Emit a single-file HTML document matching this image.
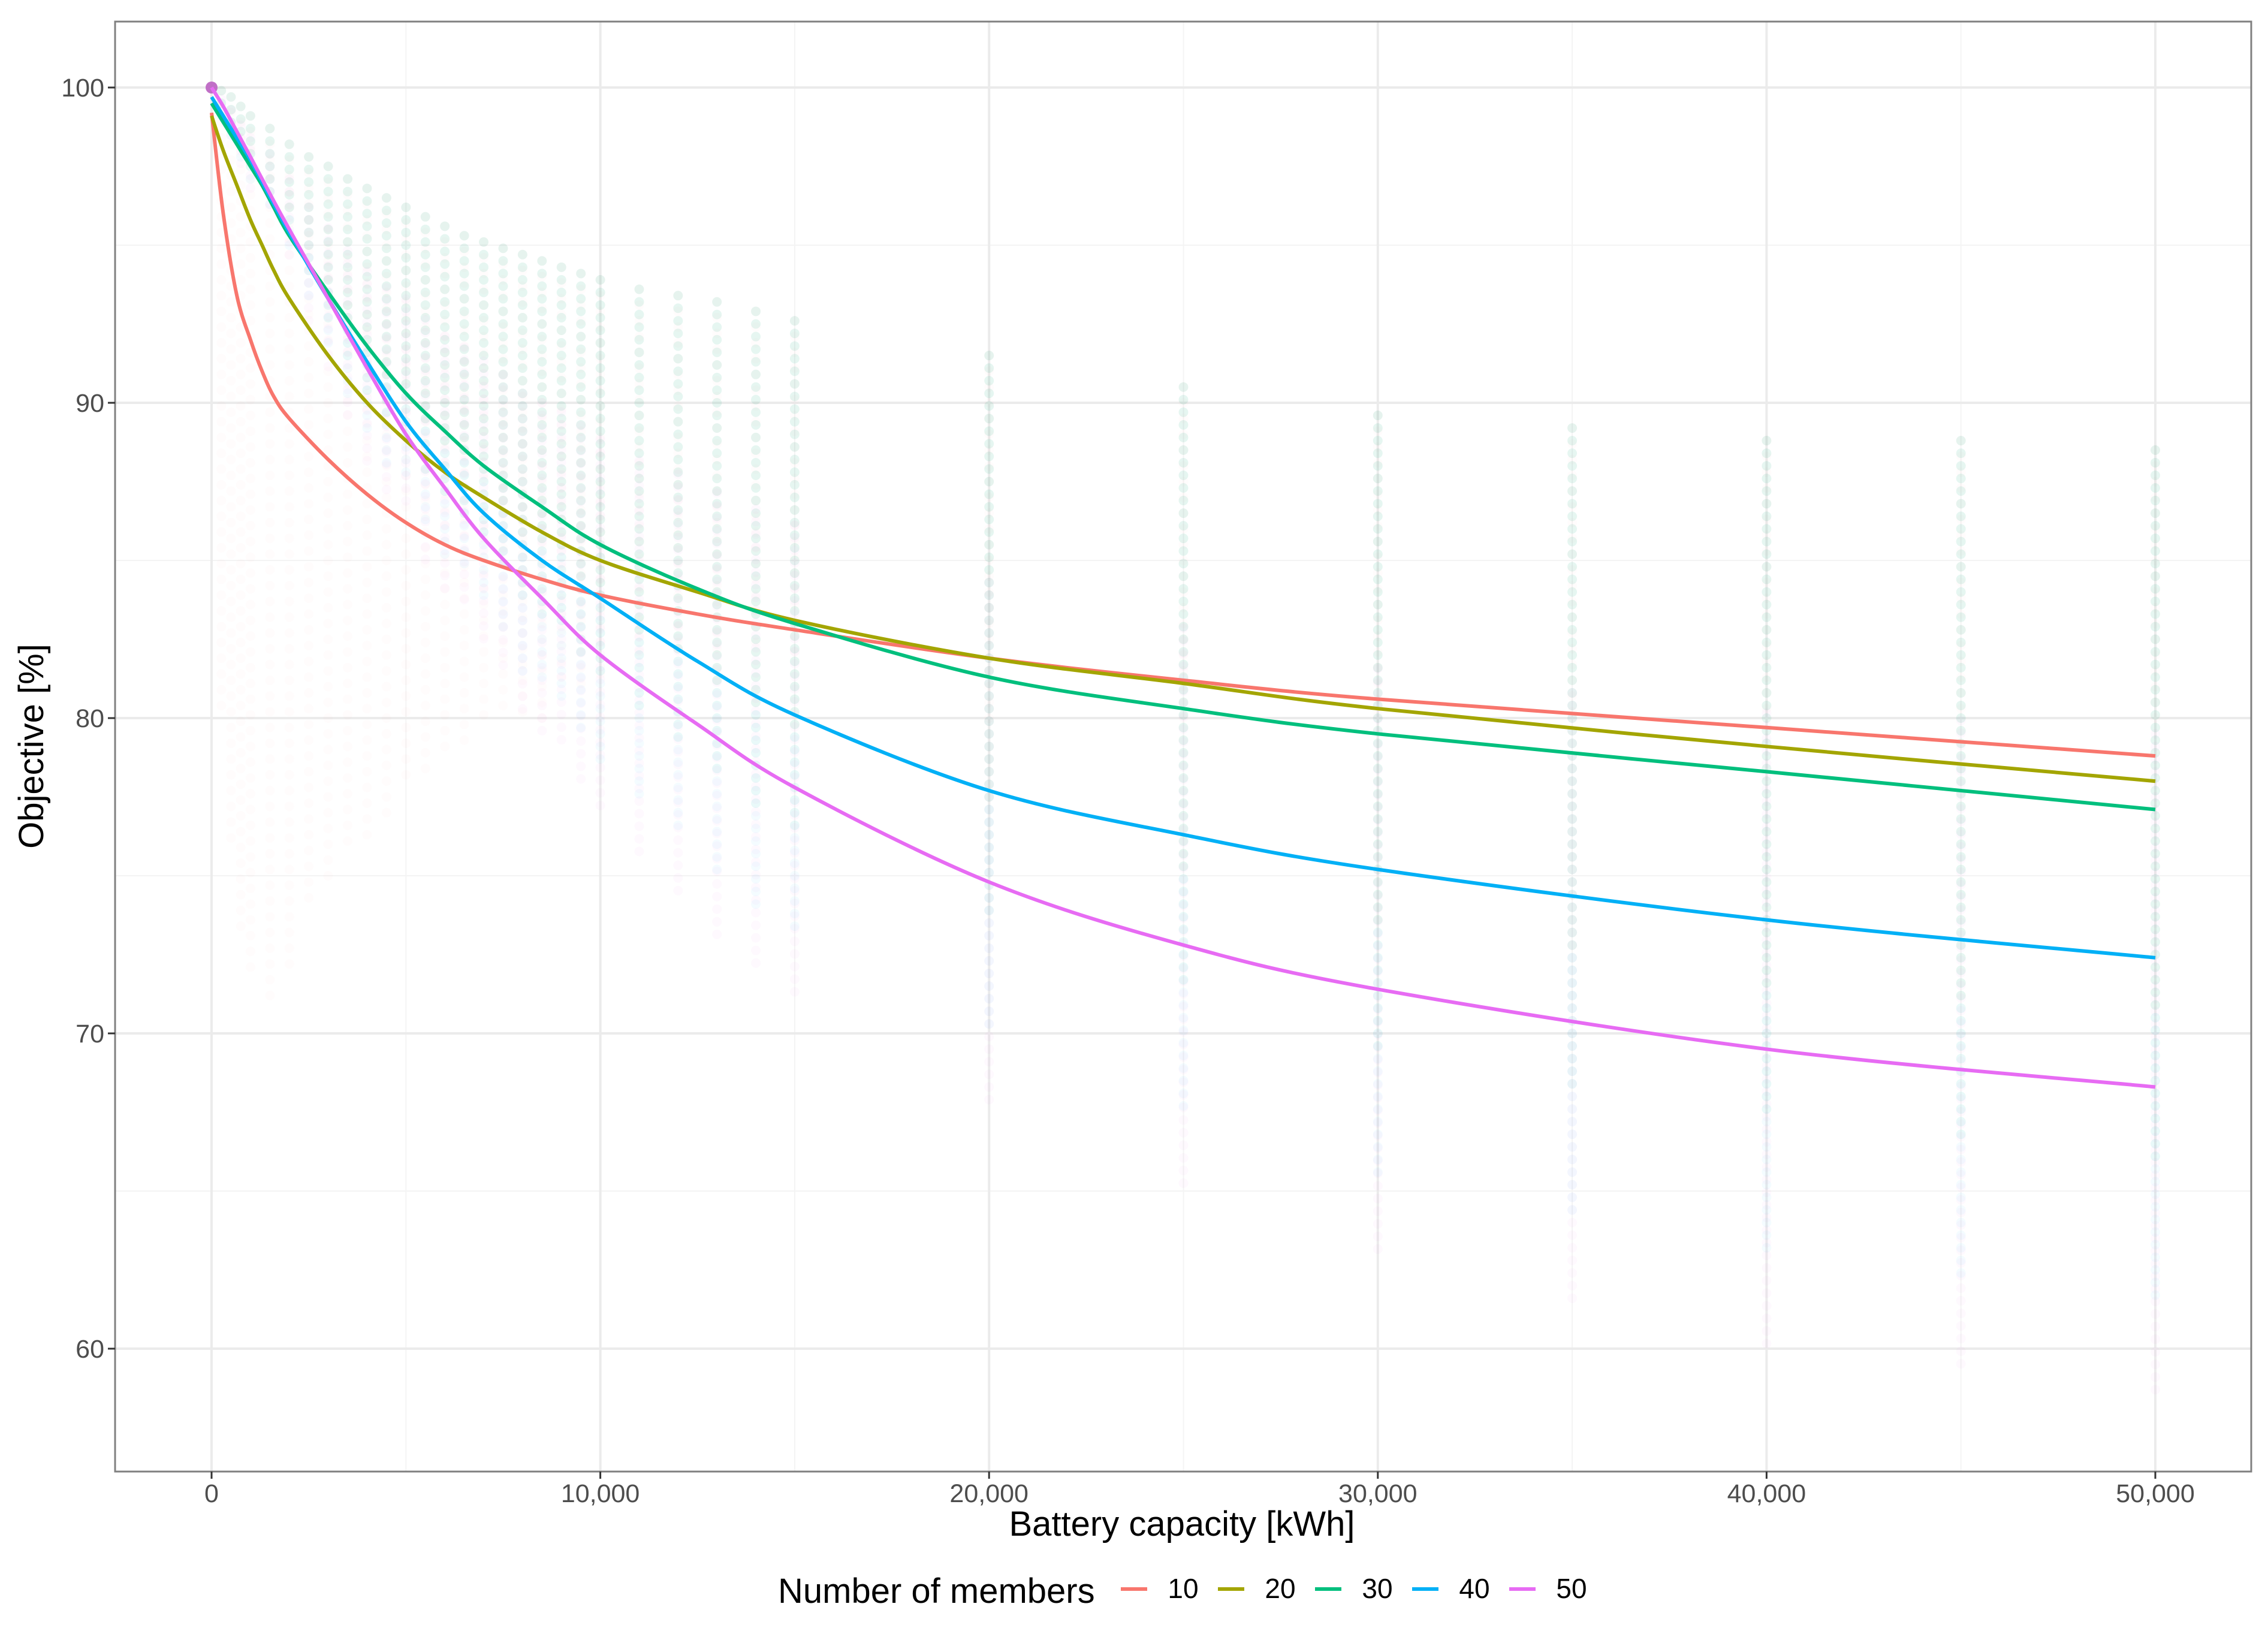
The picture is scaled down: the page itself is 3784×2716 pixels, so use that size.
<!DOCTYPE html>
<html><head><meta charset="utf-8">
<style>
html,body{margin:0;padding:0;background:#fff;}
svg{display:block;font-family:"Liberation Sans",sans-serif;}
</style></head>
<body>
<svg id="chart" width="3784" height="2716" viewBox="0 0 3784 2716" xmlns="http://www.w3.org/2000/svg">
<rect width="3784" height="2716" fill="#fff"/>
<g id="grid"></g>
<g id="points"></g>
<g id="lines"></g>
<rect x="192" y="36" width="3564" height="2419" fill="none" stroke="#808080" stroke-width="3"/>
<g id="axes"></g>
<text x="1972" y="2562" font-size="58" text-anchor="middle" fill="#000">Battery capacity [kWh]</text>
<text transform="translate(72,1245) rotate(-90)" font-size="58" text-anchor="middle" fill="#000">Objective [%]</text>
<g id="legend"></g>
</svg>
<script>
const NS="http://www.w3.org/2000/svg";
const xTicks=[0,10000,20000,30000,40000,50000];
const xTickLabels=["0","10,000","20,000","30,000","40,000","50,000"];
const yTicks=[60,70,80,90,100];
const yTickLabels=["60","70","80","90","100"];
const seriesNames=["10","20","30","40","50"];
const seriesColors=["#F8766D","#A3A500","#00BF7D","#00B0F6","#E76BF3"];
const lineX=[0,300,650,1000,1300,1600,2000,3000,4000,5000,6000,7000,8500,10000,12500,15000,20000,25000,30000,40000,50000];
const line10=[99.2,96.0,93.4,92.0,91.0,90.2,89.5,88.2,87.1,86.2,85.5,85.0,84.4,83.9,83.3,82.8,81.9,81.2,80.6,79.7,78.8];
const line20=[99.1,98.0,96.9,95.8,95.0,94.2,93.3,91.5,90.0,88.8,87.8,87.0,85.9,85.0,84.0,83.1,81.9,81.1,80.3,79.1,78.0];
const line30=[99.5,98.9,98.2,97.5,96.9,96.2,95.3,93.5,91.8,90.3,89.1,88.0,86.7,85.5,84.1,83.0,81.3,80.3,79.5,78.3,77.1];
const line40=[99.7,99.1,98.4,97.7,97.0,96.3,95.4,93.3,91.3,89.4,87.9,86.5,85.0,83.8,81.8,80.1,77.7,76.3,75.2,73.6,72.4];
const line50=[100,99.4,98.6,97.8,97.1,96.4,95.5,93.3,91.1,89.0,87.3,85.7,83.8,82.0,79.8,77.8,74.8,72.8,71.4,69.5,68.3];
const lineSeries=[line10,line20,line30,line40,line50];
const colX=[250,500,750,1000,1500,2000,2500,3000,3500,4000,4500,5000,5500,6000,6500,7000,7500,8000,8500,9000,9500,10000,11000,12000,13000,14000,15000,20000,25000,30000,35000,40000,45000,50000];
const colTop=[99.9,99.7,99.4,99.1,98.7,98.2,97.8,97.5,97.1,96.8,96.5,96.2,95.9,95.6,95.3,95.1,94.9,94.7,94.5,94.3,94.1,93.9,93.6,93.4,93.2,92.9,92.6,91.5,90.5,89.6,89.2,88.8,88.8,88.5];
const colBottom=[99.0,98.3,97.4,96.8,96.0,94.5,92.5,91.0,89.5,88.0,87.0,86.5,85.0,84.0,83.5,82.5,81.5,80.0,79.5,79.0,78.0,77.0,75.5,74.5,73.0,72.0,71.0,67.5,65.0,62.8,61.2,60.0,59.2,58.5];
const redBottom=[80,76,73,72,71,72,74,75,76,76,77,78,78,79,79,80,80,80,80,81,81,81,82,82,82,82,82,80,80,80,80,80,80,80];

const X0=353, XS=648.6/10000, Y100=146, YS=52.6;
const xs=v=>X0+v*XS;
const ys=v=>Y100+(100-v)*YS;
function el(tag,attrs,parent){const e=document.createElementNS(NS,tag);for(const k in attrs)e.setAttribute(k,attrs[k]);parent.appendChild(e);return e;}

const grid=document.getElementById('grid');
[5000,15000,25000,35000,45000].forEach(v=>{const l=el('line',{x1:xs(v),x2:xs(v),y1:36,y2:2455,stroke:'#f4f4f4','stroke-width':2},grid);

});
[65,75,85,95].forEach(v=>{const l=el('line',{x1:192,x2:3756,y1:ys(v),y2:ys(v),stroke:'#f4f4f4','stroke-width':2},grid);

});
xTicks.forEach(v=>{const l=el('line',{x1:xs(v),x2:xs(v),y1:36,y2:2455,stroke:'#ebebeb','stroke-width':4},grid);

});
yTicks.forEach(v=>{const l=el('line',{x1:192,x2:3756,y1:ys(v),y2:ys(v),stroke:'#ebebeb','stroke-width':4},grid);

});

const pts=document.getElementById('points');
const fracs=[0.45,0.6,0.75,0.9,1.0];
colX.forEach((cx,i)=>{
  const top=colTop[i],bot=colBottom[i];
  for(let v=top;v>=redBottom[i];v-=0.5){const c=el('circle',{cx:xs(cx),cy:ys(v),r:8,fill:seriesColors[0],'fill-opacity':0.02},pts);
    
    }
  for(let s=1;s<5;s++){
    const b=top-(top-bot)*fracs[s];
    const st=s===4?top-(top-bot)*0.3:top;
    const op=s===1?0.03:0.045;
    for(let v=st;v>=b;v-=0.4){const c=el('circle',{cx:xs(cx),cy:ys(v),r:8,fill:seriesColors[s],'fill-opacity':op},pts);
      
      }
  }
});
const p0=el('circle',{cx:xs(0),cy:ys(100),r:10,fill:'#c06fc6'},pts);



const lines=document.getElementById('lines');
function smoothPath(P){
  let d='M'+P[0][0].toFixed(1)+' '+P[0][1].toFixed(1);
  for(let i=0;i<P.length-1;i++){
    const p0=P[Math.max(0,i-1)],p1=P[i],p2=P[i+1],p3=P[Math.min(P.length-1,i+2)];
    const c1=[p1[0]+(p2[0]-p0[0])/6,p1[1]+(p2[1]-p0[1])/6];
    const c2=[p2[0]-(p3[0]-p1[0])/6,p2[1]-(p3[1]-p1[1])/6];
    d+=' C'+c1[0].toFixed(1)+' '+c1[1].toFixed(1)+' '+c2[0].toFixed(1)+' '+c2[1].toFixed(1)+' '+p2[0].toFixed(1)+' '+p2[1].toFixed(1);
  }
  return d;
}
lineSeries.forEach((arr,s)=>{
  const P=arr.map((v,i)=>[xs(lineX[i]),ys(v)]);
  const p=el('path',{d:smoothPath(P),fill:'none',stroke:seriesColors[s],'stroke-width':6,'stroke-linejoin':'round'},lines);
  
  
});

const axes=document.getElementById('axes');
xTicks.forEach((v,i)=>{
  const t=el('line',{x1:xs(v),x2:xs(v),y1:2455,y2:2467,stroke:'#333','stroke-width':3},axes);
  
  
  const tx=el('text',{x:xs(v),y:2506,'font-size':43,'text-anchor':'middle',fill:'#4d4d4d'},axes);
  tx.textContent=xTickLabels[i];
  
  
});
yTicks.forEach((v,i)=>{
  const t=el('line',{x1:180,x2:192,y1:ys(v),y2:ys(v),stroke:'#333','stroke-width':3},axes);
  
  
  const tx=el('text',{x:174,y:ys(v)+15,'font-size':43,'text-anchor':'end',fill:'#4d4d4d'},axes);
  tx.textContent=yTickLabels[i];
  
  
});

const lg=document.getElementById('legend');
const lt=el('text',{x:1298,y:2674,'font-size':58,fill:'#000'},lg);
lt.textContent='Number of members';


seriesNames.forEach((n,s)=>{
  const x=1870+s*162;
  const l=el('line',{x1:x,x2:x+44,y1:2651,y2:2651,stroke:seriesColors[s],'stroke-width':6},lg);
  
  
  const t=el('text',{x:x+104,y:2666,'font-size':46,'text-anchor':'middle',fill:'#000'},lg);
  t.textContent=n;
  
  
});
</script>
</body></html>
